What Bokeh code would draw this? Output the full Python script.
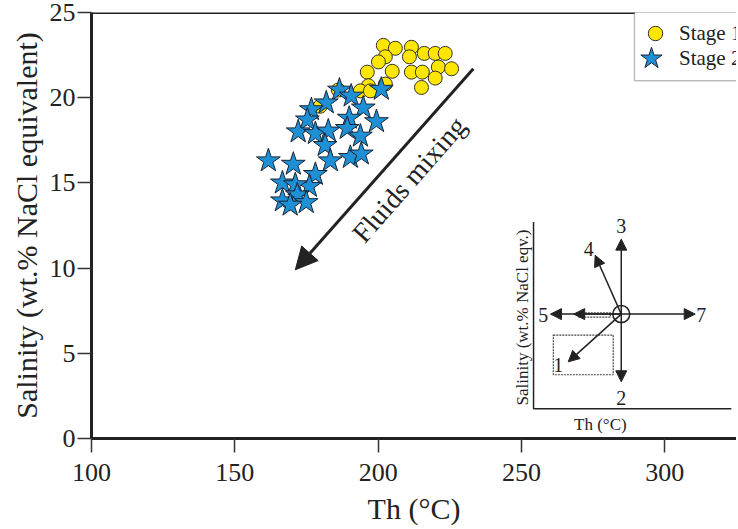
from bokeh.plotting import figure
from bokeh.models import (Range1d, FixedTicker, Label, Arrow, NormalHead, Span,
                          Legend, LegendItem, BoxAnnotation)
from bokeh.embed import file_html
from bokeh.resources import INLINE

# ---------------- data ----------------
stage1_th = [201.8, 206.0, 211.6, 216.1, 219.9, 223.4, 202.5, 200.1, 210.9, 196.2,
             204.9, 211.6, 215.4, 221.0, 225.6, 219.9, 215.1, 196.6, 193.8, 202.5,
             186.1, 179.8, 197.3]
stage1_sal = [23.07, 22.9, 22.96, 22.6, 22.6, 22.6, 22.4, 22.1, 22.4, 21.5,
              21.55, 21.5, 21.5, 21.8, 21.7, 21.15, 20.6, 20.7, 20.4, 20.8,
              20.45, 19.5, 20.4]

stage2_th = [201.1, 186.5, 190.6, 181.9, 176.7, 194.8, 175.3, 189.9, 199.4, 172.1,
             178.1, 182.6, 189.2, 193.8, 181.5, 190.3, 194.1, 183.3, 161.7, 170.4,
             178.1, 166.6, 176.0, 171.1, 171.8, 166.6, 174.9, 169.3]
stage2_sal = [20.5, 20.45, 20.1, 19.7, 19.3, 19.4, 18.7, 18.8, 18.6, 18.0,
              17.9, 18.05, 18.2, 17.75, 17.2, 16.5, 16.7, 16.3, 16.3, 16.1,
              15.5, 15.0, 14.8, 14.9, 14.3, 13.95, 13.85, 13.7]

x_ticks = [100, 150, 200, 250, 300]
y_ticks = [0, 5, 10, 15, 20, 25]

# schematic inset (drawn in the main data space)
inset_center = (284.8, 7.3)
inset_arrow_names = ["1", "2", "3", "4", "5", "5b", "7"]
inset_arrow_tip_x = [266.3, 284.8, 284.8, 275.7, 260.1, 268.2, 310.6]
inset_arrow_tip_y = [4.5, 3.33, 11.7, 10.75, 7.3, 7.3, 7.3]
inset_label_text = ["1", "2", "3", "4", "5", "7"]
inset_label_x = [262.8, 284.8, 284.8, 273.5, 259.3, 311.0]
inset_label_y = [4.3, 2.4, 12.45, 11.1, 7.25, 7.25]

FONT = "Liberation Serif"

p = figure(width=736, height=527, output_backend="svg", toolbar_location=None,
           x_range=Range1d(100, 325.0), y_range=Range1d(0, 25),
           min_border_left=91, min_border_right=0, min_border_top=12,
           min_border_bottom=87)
p.outline_line_color = None
p.grid.visible = False
p.background_fill_color = "white"
p.border_fill_color = "white"

for ax in (p.xaxis[0], p.yaxis[0]):
    ax.axis_line_width = 3
    ax.axis_line_color = "#222222"
    ax.major_tick_line_color = "#333333"
    ax.major_tick_line_width = 1.5
    ax.major_tick_out = 14
    ax.major_tick_in = 0
    ax.minor_tick_line_color = None
    ax.major_label_text_font = FONT
    ax.major_label_text_font_size = "26px"
    ax.major_label_text_color = "#222222"
    ax.axis_label_text_font = FONT
    ax.axis_label_text_font_size = "30px"
    ax.axis_label_text_font_style = "normal"
    ax.axis_label_text_color = "#222222"

p.xaxis.ticker = FixedTicker(ticks=x_ticks)
p.yaxis.ticker = FixedTicker(ticks=y_ticks)
p.xaxis.axis_label = "Th (°C)"
p.yaxis.axis_label = "Salinity (wt.% NaCl equivalent)"
p.xaxis.major_label_standoff = 11
p.yaxis.major_label_standoff = 2
p.xaxis.axis_label_standoff = 8
p.yaxis.axis_label_standoff = 4

# top frame line
p.add_layout(Span(location=25, dimension="width", line_color="#222222", line_width=3))

# data
r1 = p.scatter(stage1_th, stage1_sal, marker="circle", size=14,
               fill_color="#FFE600", line_color="#333322", line_width=1)
r2 = p.scatter(stage2_th, stage2_sal, marker="star", size=25,
               fill_color="#1E90D6", line_color="#1a2535", line_width=1)

# fluids mixing arrow
p.add_layout(Arrow(x_start=233.2, y_start=21.7, x_end=171.1, y_end=9.9,
                   line_color="#222222", line_width=3,
                   end=NormalHead(size=22, fill_color="#222222", line_color="#222222")))
p.add_layout(Label(x=210.8, y=15.2, text="Fluids mixing", angle=48.7, angle_units="deg",
                   text_align="center", text_baseline="middle",
                   text_font=FONT, text_font_size="28px", text_color="#222222"))

# ---------------- inset ----------------
ix0, ix1, iy0, iy1 = 254.2, 323.2, 1.75, 12.7
p.line([ix0, ix0, ix1], [iy1, iy0, iy0], line_color="#222222", line_width=1.5)
# dotted boxes
p.quad(left=[261.1], right=[282.0], bottom=[3.74], top=[6.07], fill_color=None,
       line_color="#444444", line_dash="2 1", line_width=1.2)
p.quad(left=[270.0], right=[281.0], bottom=[7.12], top=[7.38], fill_color=None,
       line_color="#444444", line_dash="2 1", line_width=1.2)
for tx, ty in zip(inset_arrow_tip_x, inset_arrow_tip_y):
    p.add_layout(Arrow(x_start=inset_center[0], y_start=inset_center[1], x_end=tx, y_end=ty,
                       line_color="#222222", line_width=1.5,
                       end=NormalHead(size=11, fill_color="#222222", line_color="#222222")))
p.scatter([inset_center[0]], [inset_center[1]], marker="circle", size=17,
          fill_color="white", line_color="#222222", line_width=1.5)
aligns = ["center", "center", "center", "center", "right", "left"]
for t, lx, ly, al in zip(inset_label_text, inset_label_x, inset_label_y, aligns):
    p.add_layout(Label(x=lx, y=ly, text=t, text_align=al, text_baseline="middle",
                       text_font=FONT, text_font_size="20px", text_color="#222222"))
p.add_layout(Label(x=250.3, y=7.1, text="Salinity (wt.% NaCl eqv.)", angle=90,
                   angle_units="deg", text_align="center", text_baseline="middle",
                   text_font=FONT, text_font_size="17px", text_color="#222222"))
p.add_layout(Label(x=277.5, y=0.8, text="Th (°C)", text_align="center",
                   text_baseline="middle", text_font=FONT,
                   text_font_size="17px", text_color="#222222"))

# legend box + two legends (different glyph sizes for circle and star)
p.add_layout(BoxAnnotation(left=289.4, right=340, bottom=21.0, top=25.1,
                           fill_color="white", fill_alpha=1.0,
                           line_color="#222222", line_width=1.5))
common = dict(padding=0, margin=0, label_text_font=FONT, label_text_font_size="21px",
              label_text_color="#222222", border_line_color=None,
              background_fill_alpha=0.0)
legend_a = Legend(items=[LegendItem(label="Stage 1", renderers=[r1])],
                  location=(546, 387), glyph_width=36, glyph_height=36,
                  label_standoff=6, **common)
legend_b = Legend(items=[LegendItem(label="Stage 2", renderers=[r2])],
                  location=(532, 352), glyph_width=56, glyph_height=56,
                  label_standoff=0, **common)
p.add_layout(legend_a)
p.add_layout(legend_b)

open("out.html", "w").write(file_html(p, INLINE))
